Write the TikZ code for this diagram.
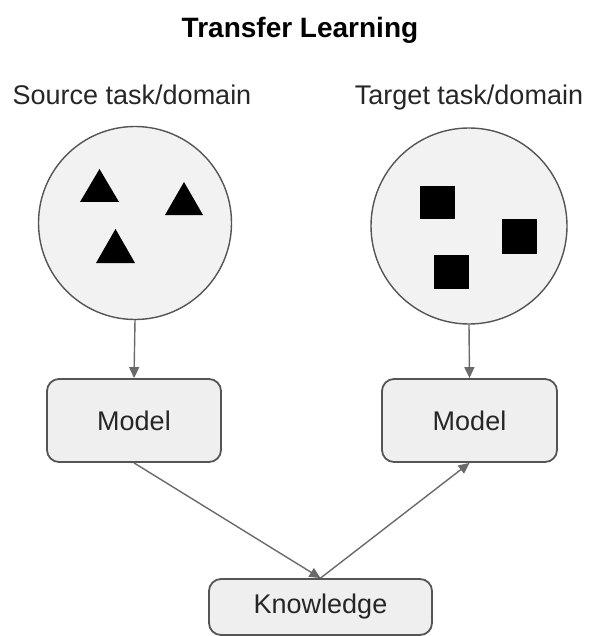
\documentclass[tikz,border=0pt]{standalone}
\usepackage{fontspec}
\setmainfont{Liberation Sans}
\usepackage{tikz}
\usetikzlibrary{arrows.meta}
\usepackage{xcolor}
\definecolor{domainfill}{HTML}{F2F2F2}
\definecolor{boxfill}{HTML}{EFEFEF}
\definecolor{edgegray}{HTML}{555555}
\definecolor{arrowgray}{HTML}{6A6A6A}
\definecolor{textgray}{HTML}{262626}

\begin{document}
\begin{tikzpicture}[
    x=1pt, y=-1pt,
    domaincircle/.style={circle, draw=edgegray, line width=1.4pt, fill=domainfill, inner sep=0pt},
    modelbox/.style={rectangle, rounded corners=12pt, draw=edgegray, line width=1.8pt, fill=boxfill,
      text=textgray, font=\fontsize{27}{32}\selectfont},
    tasklabel/.style={text=textgray, font=\fontsize{27}{32}\selectfont, anchor=base},
    flow/.style={draw=arrowgray, line width=1.4pt, -{Triangle[length=11pt,width=10pt]}},
  ]
  \useasboundingbox (0,0) rectangle (589,636);

  % title and labels
  \node[font=\fontsize{28}{34}\selectfont\bfseries, anchor=base] (title) at (300,38) {Transfer Learning};
  \node[tasklabel] (srclabel) at (132,105) {Source task/domain};
  \node[tasklabel] (tgtlabel) at (469,105) {Target task/domain};

  % domains
  \node[domaincircle, minimum size=193pt] (srcdomain) at (135,223) {};
  \node[domaincircle, minimum size=196pt] (tgtdomain) at (469,226) {};

  % data in the source domain
  \fill (80,202) -- (119,202) -- (99.5,169) -- cycle;
  \fill (165,215) -- (203,215) -- (184,182) -- cycle;
  \fill (96,263) -- (135,263) -- (115.5,229) -- cycle;

  % data in the target domain
  \fill (420,186) rectangle (455,219);
  \fill (502,219) rectangle (537,254);
  \fill (434,255) rectangle (469,289);

  % models and knowledge
  \node[modelbox, minimum width=174pt, minimum height=83pt] (srcmodel) at (134,420.5) {Model};
  \node[modelbox, minimum width=175pt, minimum height=83pt] (tgtmodel) at (469.5,420.5) {Model};
  \node[modelbox, minimum width=223pt, minimum height=56pt] (knowledge) at (320.5,607) {Knowledge};

  \draw[flow] (srcdomain.south) -- (srcmodel.north);
  \draw[flow] (tgtdomain.south) -- (tgtmodel.north);
  \draw[flow] (srcmodel.south) -- (knowledge.north);
  \draw[flow] (knowledge.north) -- (tgtmodel.south);
\end{tikzpicture}
\end{document}
